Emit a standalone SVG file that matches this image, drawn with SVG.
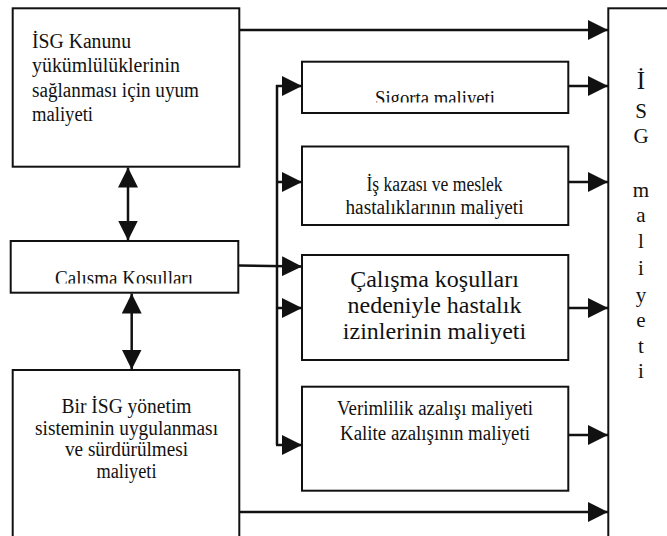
<svg xmlns="http://www.w3.org/2000/svg" width="667" height="536" viewBox="0 0 667 536">
<style>
.box{fill:#fff;stroke:#111;stroke-width:2}
.t{font-family:"Liberation Serif","Times New Roman",serif;font-size:20px;fill:#111}
.m{text-anchor:middle}
.big{font-size:24px}
.v{font-size:21px}
.con line,.con polyline{stroke:#111;stroke-width:2.5;fill:none}
.arr{marker-end:url(#ah)}
.dbl{marker-end:url(#ah);marker-start:url(#ah)}
</style>
<defs>
<marker id="ah" markerUnits="userSpaceOnUse" markerWidth="20" markerHeight="20" refX="20" refY="10" orient="auto-start-reverse" viewBox="0 0 20 20">
<path d="M0,0 L20,10 L0,20 Z" fill="#111"/>
</marker>
<clipPath id="clipSig"><rect x="303" y="62" width="264" height="40.5"/></clipPath>
<clipPath id="clipCK"><rect x="11" y="242" width="226" height="41.5"/></clipPath>
</defs>

<g id="node-kanun">
<rect class="box" x="12.7" y="8.3" width="226.6" height="158.4"/>
<text class="t" x="32" y="48" textLength="99" lengthAdjust="spacingAndGlyphs">İSG Kanunu</text>
<text class="t" x="32" y="72" textLength="148" lengthAdjust="spacingAndGlyphs">yükümlülüklerinin</text>
<text class="t" x="32" y="96.5" textLength="167" lengthAdjust="spacingAndGlyphs">sağlanması için uyum</text>
<text class="t" x="32" y="120.5" textLength="61" lengthAdjust="spacingAndGlyphs">maliyeti</text>
</g>

<g id="node-calisma-kosullari">
<rect class="box" x="10.7" y="241" width="227.6" height="51.7"/>
<text class="t m" x="124" y="284.8" clip-path="url(#clipCK)" textLength="138" lengthAdjust="spacingAndGlyphs">Çalışma Koşulları</text>
</g>

<g id="node-yonetim">
<rect class="box" x="12.7" y="370" width="226.6" height="200"/>
<text class="t m" x="126.5" y="413" textLength="130" lengthAdjust="spacingAndGlyphs">Bir İSG yönetim</text>
<text class="t m" x="126.5" y="434.7" textLength="183" lengthAdjust="spacingAndGlyphs">sisteminin uygulanması</text>
<text class="t m" x="126.5" y="456.3" textLength="123" lengthAdjust="spacingAndGlyphs">ve sürdürülmesi</text>
<text class="t m" x="126.5" y="478" textLength="60" lengthAdjust="spacingAndGlyphs">maliyeti</text>
</g>

<g id="node-sigorta">
<rect class="box" x="302" y="61.7" width="266.3" height="51.3"/>
<text class="t m" x="435" y="104.8" clip-path="url(#clipSig)" textLength="120" lengthAdjust="spacingAndGlyphs">Sigorta maliyeti</text>
</g>

<g id="node-is-kazasi">
<rect class="box" x="302" y="146.5" width="266.3" height="78.5"/>
<text class="t m" x="434.5" y="191" textLength="136" lengthAdjust="spacingAndGlyphs">İş kazası ve meslek</text>
<text class="t m" x="434.5" y="213.5" textLength="178" lengthAdjust="spacingAndGlyphs">hastalıklarının maliyeti</text>
</g>

<g id="node-hastalik-izin">
<rect class="box" x="302" y="255" width="266.3" height="105"/>
<text class="t m big" x="434.5" y="286.7">Çalışma koşulları</text>
<text class="t m big" x="434.5" y="313.3">nedeniyle hastalık</text>
<text class="t m big" x="434.5" y="339.3">izinlerinin maliyeti</text>
</g>

<g id="node-verimlilik">
<rect class="box" x="302" y="386.7" width="266.3" height="104"/>
<text class="t m" x="435" y="415" textLength="196" lengthAdjust="spacingAndGlyphs">Verimlilik azalışı maliyeti</text>
<text class="t m" x="435" y="440" textLength="190" lengthAdjust="spacingAndGlyphs">Kalite azalışının maliyeti</text>
</g>

<g id="node-isg-maliyeti">
<rect class="box" x="608.3" y="8.3" width="100" height="600"/>
<g class="t m v">
<text x="641" y="89.3" style="font-size:25px">İ</text>
<text x="641" y="118">S</text>
<text x="641" y="143">G</text>
<text x="641" y="196.7">m</text>
<text x="641" y="221.7">a</text>
<text x="641" y="248">l</text>
<text x="641" y="275">i</text>
<text x="641" y="301.7">y</text>
<text x="641" y="326.7">e</text>
<text x="641" y="353">t</text>
<text x="641" y="378">i</text>
</g>
</g>

<g id="connectors" class="con">
<line class="arr" x1="239.3" y1="30" x2="608" y2="30"/>
<line class="arr" x1="239.3" y1="512" x2="608" y2="512"/>
<line class="arr" x1="568.3" y1="86" x2="608" y2="86"/>
<line class="arr" x1="568.3" y1="182" x2="608" y2="182"/>
<line class="arr" x1="568.3" y1="308" x2="608" y2="308"/>
<line class="arr" x1="568.3" y1="435" x2="608" y2="435"/>
<line class="dbl" x1="128" y1="167.5" x2="128" y2="240.5"/>
<line class="dbl" x1="131.7" y1="293.5" x2="131.7" y2="369.5"/>
<line class="arr" x1="238.3" y1="265.5" x2="302" y2="266.5"/>
<polyline points="277,445 277,85"/>
<line class="arr" x1="276" y1="86" x2="302" y2="86"/>
<line class="arr" x1="277" y1="182" x2="302" y2="182"/>
<line class="arr" x1="277" y1="308" x2="302" y2="308"/>
<line class="arr" x1="276" y1="445" x2="302" y2="445"/>
</g>
</svg>
